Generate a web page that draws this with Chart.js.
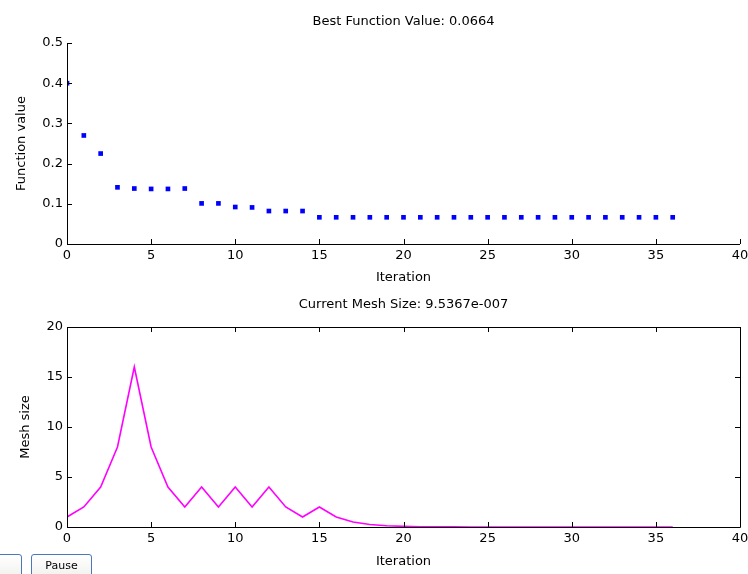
<!DOCTYPE html>
<html>
<head>
<meta charset="utf-8">
<script src="https://cdn.jsdelivr.net/npm/chart.js@4/dist/chart.umd.min.js"></script>
<style>
  body { margin: 0; background: #fff; }
  #wrap { position: relative; width: 748px; height: 574px; overflow: hidden; background: #fff; }
  canvas { position: absolute; left: 0; }
  #top { top: 0; }
  #bottom { top: 287px; }
  .btn {
    position: absolute; top: 554px; height: 26px;
    border: 1px solid #4a78b8; border-radius: 3px;
    background: linear-gradient(#ffffff, #f0f0ec);
    font: 11px "DejaVu Sans", sans-serif; color: #000;
    box-sizing: border-box; text-align: center; padding-top: 4px;
  }
</style>
</head>
<body>
<div id="wrap">
  <canvas id="top" width="748" height="287"></canvas>
  <canvas id="bottom" width="748" height="287"></canvas>
  <div class="btn" style="left:-40px; width:62px;"></div>
  <div class="btn" style="left:31px; width:61px;">Pause</div>
</div>
<script>
// iterations 0..36
var iterations = [0,1,2,3,4,5,6,7,8,9,10,11,12,13,14,15,16,17,18,19,20,21,22,23,24,25,26,27,28,29,30,31,32,33,34,35,36];

// best function value per iteration
var bestValues = [0.4, 0.27, 0.225, 0.141, 0.138, 0.137, 0.137, 0.138, 0.101, 0.101,
  0.092, 0.091, 0.082, 0.082, 0.082, 0.0664, 0.0664, 0.0664, 0.0664, 0.0664,
  0.0664, 0.0664, 0.0664, 0.0664, 0.0664, 0.0664, 0.0664, 0.0664, 0.0664, 0.0664,
  0.0664, 0.0664, 0.0664, 0.0664, 0.0664, 0.0664, 0.0664];

// mesh size per iteration
var meshSizes = [1, 2, 4, 8, 16, 8, 4, 2, 4, 2, 4, 2, 4, 2, 1, 2, 1,
  0.5, 0.25, 0.125, 0.0625, 0.03125, 0.015625, 0.0078125, 0.00390625,
  0.001953125, 0.0009765625, 0.00048828125, 0.000244140625, 0.0001220703125,
  0.00006103515625, 0.000030517578125, 0.0000152587890625, 0.00000762939453125,
  0.000003814697265625, 0.0000019073486328125, 0.00000095367431640625];

var xTicks = [0, 5, 10, 15, 20, 25, 30, 35, 40];
var topTitle = 'Best Function Value: 0.0664';
var bottomTitle = 'Current Mesh Size: 9.5367e-007';

var FONT = '"DejaVu Sans", sans-serif';

// matlab style inward ticks (and optional box)
var matlabAxes = {
  id: 'matlabAxes',
  afterDraw: function (chart, args, opts) {
    var ctx = chart.ctx, a = chart.chartArea;
    var sx = chart.scales.x, sy = chart.scales.y;
    var len = 5;
    ctx.save();
    ctx.strokeStyle = '#000';
    ctx.lineWidth = 1;
    ctx.beginPath();
    if (opts.box) {
      ctx.rect(Math.round(a.left) + 0.5, Math.round(a.top) + 0.5,
        Math.round(a.right - a.left), Math.round(a.bottom - a.top));
    } else {
      ctx.moveTo(Math.round(a.left) + 0.5, a.top);
      ctx.lineTo(Math.round(a.left) + 0.5, Math.round(a.bottom) + 0.5);
      ctx.lineTo(a.right, Math.round(a.bottom) + 0.5);
    }
    sx.ticks.forEach(function (t) {
      var px = Math.round(sx.getPixelForValue(t.value)) + 0.5;
      ctx.moveTo(px, a.bottom);
      ctx.lineTo(px, a.bottom - len);
      if (opts.box) {
        ctx.moveTo(px, a.top);
        ctx.lineTo(px, a.top + len);
      }
    });
    sy.ticks.forEach(function (t) {
      var py = Math.round(sy.getPixelForValue(t.value)) + 0.5;
      ctx.moveTo(a.left, py);
      ctx.lineTo(a.left + len, py);
      if (opts.box) {
        ctx.moveTo(a.right, py);
        ctx.lineTo(a.right - len, py);
      }
    });
    ctx.stroke();
    ctx.restore();
  }
};

function makeOptions(title, titleTop, topHeight, yLabel, yTitlePad, yMax, yStep, xHeight, xTitlePad, box) {
  return {
    responsive: false,
    animation: false,
    devicePixelRatio: 1,
    layout: { padding: { left: 0, right: 8, top: 0, bottom: 0 } },
    plugins: {
      legend: { display: false },
      tooltip: { enabled: false },
      matlabAxes: { box: box }
    },
    scales: {
      x: {
        type: 'linear', min: 0, max: 40,
        afterBuildTicks: function (s) { s.ticks = xTicks.map(function (v) { return { value: v }; }); },
        grid: { display: false, drawTicks: false },
        border: { display: false },
        ticks: { color: '#000', padding: 4, maxRotation: 0, font: { family: FONT, size: 13 } },
        title: { display: true, text: 'Iteration', color: '#000', padding: { top: 0, bottom: xTitlePad },
          font: { family: FONT, size: 13 } },
        afterFit: function (s) { s.height = xHeight; s.paddingLeft = 0; s.paddingRight = 0; }
      },
      // top axis only carries the plot title, centred over the axes
      xTitle: {
        type: 'linear', position: 'top', min: 0, max: 40,
        grid: { display: false, drawTicks: false },
        border: { display: false },
        ticks: { display: false },
        title: { display: true, text: title, color: '#000', padding: { top: titleTop, bottom: 0 },
          font: { family: FONT, size: 13 } },
        afterFit: function (s) { s.height = topHeight; s.paddingLeft = 0; s.paddingRight = 0; }
      },
      y: {
        min: 0, max: yMax,
        ticks: { stepSize: yStep, color: '#000', padding: 4, font: { family: FONT, size: 13 } },
        grid: { display: false, drawTicks: false },
        border: { display: false },
        title: { display: true, text: yLabel, color: '#000', padding: { top: yTitlePad, bottom: 0 },
          font: { family: FONT, size: 13 } },
        afterFit: function (s) { s.width = 67; }
      }
    }
  };
}

new Chart(document.getElementById('top'), {
  type: 'line',
  data: {
    datasets: [{
      data: iterations.map(function (it, i) { return { x: it, y: bestValues[i] }; }),
      showLine: false,
      pointStyle: 'rect',
      pointRadius: 3.3,
      pointBackgroundColor: '#0000ff',
      pointBorderWidth: 0,
      borderColor: '#0000ff'
    }]
  },
  options: makeOptions(topTitle, 14, 43, 'Function value', 14, 0.5, 0.1, 43, 2, false),
  plugins: [matlabAxes]
});

new Chart(document.getElementById('bottom'), {
  type: 'line',
  data: {
    datasets: [{
      data: iterations.map(function (it, i) { return { x: it, y: meshSizes[i] }; }),
      borderColor: '#ff00ff',
      borderWidth: 1.6,
      pointRadius: 0,
      tension: 0,
      fill: false
    }]
  },
  options: makeOptions(bottomTitle, 10, 40, 'Mesh size', 18, 20, 5, 47, 5, true),
  plugins: [matlabAxes]
});
</script>
</body>
</html>
